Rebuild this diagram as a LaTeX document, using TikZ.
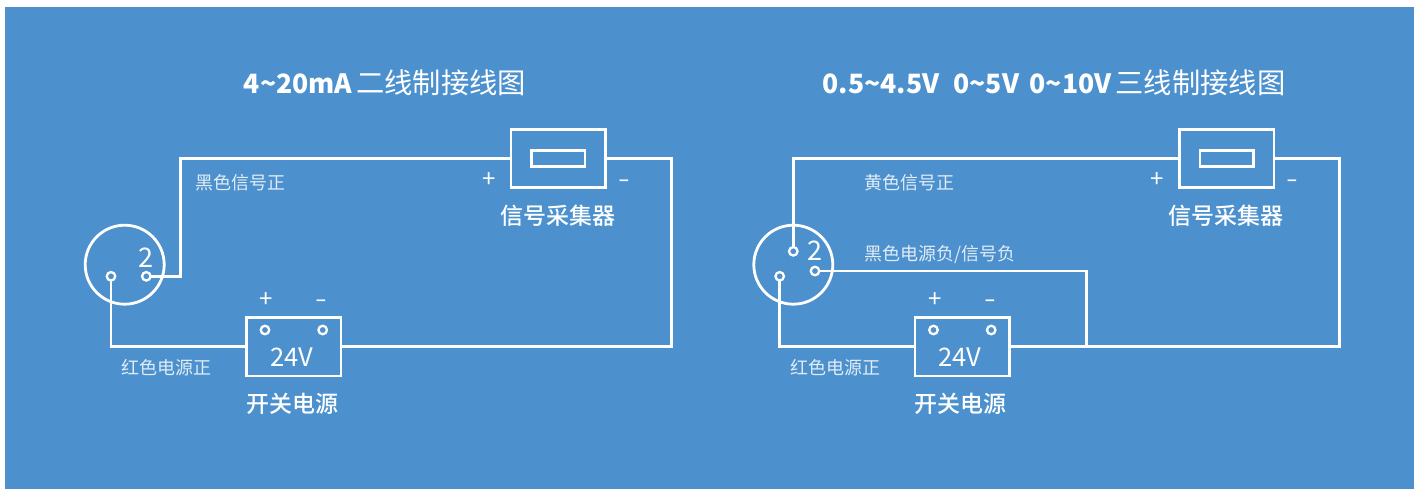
\documentclass[tikz,border=0pt]{standalone}
\usepackage{fontspec}
\setmainfont{Noto Sans CJK SC}
\newfontfamily\medfont{Noto Sans CJK SC Medium}
\definecolor{bgblue}{RGB}{76,145,205}
\definecolor{softwhite}{RGB}{225,236,246}
\newcommand{\latinbold}[1]{{\fontsize{26.6}{30}\selectfont\bfseries #1}}
\tikzset{
  x=1pt,y=-1pt,
  wire/.style={draw=white,line width=2.8pt,line join=miter},
  pin/.style={circle,draw=white,line width=2.3pt,fill=none,minimum size=8.5pt,inner sep=0pt,outer sep=0pt},
  connector/.style={circle,draw=white,line width=2.8pt,minimum size=79pt,inner sep=0pt,outer sep=0pt},
  unitbox/.style={rectangle,draw=white,line width=2.8pt,minimum width=94.5pt,minimum height=58.5pt,inner sep=0pt,outer sep=0pt},
  slot/.style={rectangle,draw=white,line width=2.6pt,minimum width=53.5pt,minimum height=16.5pt,inner sep=0pt,outer sep=0pt},
  title/.style={text=white,font=\fontsize{28.3}{30}\selectfont,anchor=base,inner sep=0pt},
  caption/.style={text=white,font=\fontsize{23}{25}\selectfont\medfont,anchor=base,inner sep=0pt},
  small/.style={text=softwhite,font=\fontsize{18}{20}\selectfont,anchor=base west,inner sep=0pt},
  sign/.style={text=white,font=\fontsize{24}{26}\selectfont,anchor=base,inner sep=0pt},
  minus/.style={sign,xscale=1.4},
  numlabel/.style={text=white,font=\fontsize{27}{29}\selectfont,anchor=base,inner sep=0pt},
  voltlabel/.style={text=white,font=\fontsize{25.5}{28}\selectfont,anchor=base,inner sep=0pt},
}
\begin{document}
\begin{tikzpicture}
\useasboundingbox (0,0) rectangle (1422,489);
\fill[bgblue] (5,7) rectangle (1414,489);

% ---------- left diagram
\node[title] (t1) at (385,94) {\latinbold{4\char`\~20mA}\hspace{4pt}二线制接线图};
\node[connector] (conn1) at (124.7,264.7) {};
\node[pin] (pa1) at (111,276.3) {};
\node[pin] (pb1) at (146.3,276.3) {};
\node[numlabel] (two1) at (145.8,267) {2};
\node[unitbox] (coll1) at (558.3,158.5) {};
\node[slot] (slot1) at (558.2,158.5) {};
\node[caption] (capc1) at (557.5,225) {信号采集器};
\node[sign] (cp1) at (489,188) {+};
\node[minus] (cm1) at (624,188) {-};
\node[unitbox] (psu1) at (293.7,346.7) {};
\node[pin] (pp1) at (265,330) {};
\node[pin] (pm1) at (322.7,330) {};
\node[voltlabel] (v1) at (291.5,366.5) {24V};
\node[sign] (sp1) at (266.5,307) {+};
\node[minus] (sm1) at (321.5,307) {-};
\node[caption] (capp1) at (292,412) {开关电源};
\node[small] (l1a) at (195,190) {黑色信号正};
\node[small] (l1b) at (121.5,374) {红色电源正};
\coordinate (k1a) at (180.7,230);
\coordinate (k1b) at (671.7,250);
\draw[wire] (pb1.east) -| (k1a) |- (coll1.west);
\draw[wire] (coll1.east) -| (k1b) |- (psu1.east);
\draw[wire] (pa1.south) |- (psu1.west);

% ---------- right diagram
\node[title] (t2) at (1054,94) {\latinbold{0.5\char`\~4.5V\hspace{14pt}0\char`\~5V\hspace{10.5pt}0\char`\~10V}\hspace{4pt}三线制接线图};
\node[connector] (conn2) at (793.3,264.7) {};
\node[pin] (pt2) at (793.3,251.3) {};
\node[pin] (pr2) at (815,271) {};
\node[pin] (pa2) at (779.7,276.3) {};
\node[numlabel] (two2) at (814.6,261) {2};
\node[unitbox] (coll2) at (1226.8,158.5) {};
\node[slot] (slot2) at (1226.7,158.5) {};
\node[caption] (capc2) at (1226,225) {信号采集器};
\node[sign] (cp2) at (1157.5,188) {+};
\node[minus] (cm2) at (1292.5,188) {-};
\node[unitbox] (psu2) at (962.2,346.7) {};
\node[pin] (pp2) at (933.5,330) {};
\node[pin] (pm2) at (991.2,330) {};
\node[voltlabel] (v2) at (960,366.5) {24V};
\node[sign] (sp2) at (935,307) {+};
\node[minus] (sm2) at (990,307) {-};
\node[caption] (capp2) at (960.5,412) {开关电源};
\node[small] (l2a) at (864,190) {黄色信号正};
\node[small] (l2c) at (864,260.5) {黑色电源负/信号负};
\node[small] (l2b) at (790,374) {红色电源正};
\coordinate (k2b) at (1339.7,250);
\coordinate (k2c) at (1086.3,300);
\coordinate (j2) at (1086.3,346.7);
\draw[wire] (pt2.north) |- (coll2.west);
\draw[wire] (coll2.east) -| (k2b) |- (psu2.east);
\draw[wire] (pr2.east) -| (k2c) -- (j2);
\draw[wire] (pa2.south) |- (psu2.west);
\end{tikzpicture}
\end{document}
